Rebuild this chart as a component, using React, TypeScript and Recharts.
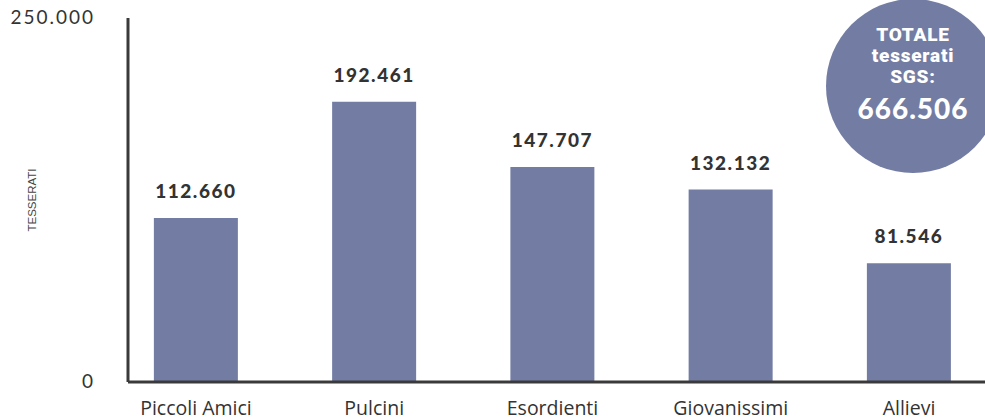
import { BarChart, Bar, XAxis, YAxis, LabelList, Customized } from 'recharts';

const CATEGORIES = ['Piccoli Amici', 'Pulcini', 'Esordienti', 'Giovanissimi', 'Allievi'];
const TESSERATI = [112660, 192461, 147707, 132132, 81546];
const Y_TICKS = [0, 250000];

const BAR_COLOR = '#737ca3';
const AXIS_COLOR = '#3a3a3a';
const NUM_FONT = 'Lato, "DejaVu Sans", sans-serif';

const fmt = (v: number) => v.toLocaleString('de-DE');

const data = CATEGORIES.map((name, i) => ({ idx: i, name, value: TESSERATI[i] }));
const total = TESSERATI.reduce((s, v) => s + v, 0);

// bubble with the grand total, top right corner
const TotalBubble = () => (
  <g>
    <circle cx={913} cy={86} r={87} fill={BAR_COLOR} />
    <g
      textAnchor="middle"
      fill="#fff"
      fontFamily='Roboto, "DejaVu Sans", sans-serif'
      fontWeight={900}
      fontSize={19}
      letterSpacing={0.8}
    >
      <text x={913} y={41}>TOTALE</text>
      <text x={913} y={62}>tesserati</text>
      <text x={913} y={83}>SGS:</text>
    </g>
    <text
      x={913}
      y={119}
      textAnchor="middle"
      fill="#fff"
      fontFamily={NUM_FONT}
      fontWeight={900}
      fontSize={28}
      letterSpacing={1}
    >
      {fmt(total)}
    </text>
  </g>
);

export default function App() {
  return (
    <div
      style={{
        position: 'absolute',
        left: 0,
        top: 0,
        width: 985,
        height: 420,
        overflow: 'hidden',
        background: '#fff',
      }}
    >
      <BarChart width={985} height={420} data={data} margin={{ top: 18, right: 0, left: 0, bottom: 0 }}>
        <XAxis
          dataKey="idx"
          type="number"
          domain={[-0.3815, 4.4263]}
          allowDataOverflow
          ticks={[0, 1, 2, 3, 4]}
          tickFormatter={(i: number) => CATEGORIES[i]}
          height={38}
          tickLine={false}
          tickMargin={13}
          axisLine={{ stroke: AXIS_COLOR, strokeWidth: 3 }}
          tick={{ fill: '#333', fontSize: 19.5, fontFamily: '"Open Sans", "Noto Sans", sans-serif' }}
        />
        <YAxis
          domain={[0, 250000]}
          ticks={Y_TICKS}
          tickFormatter={fmt}
          width={128}
          tickLine={false}
          tickMargin={27}
          axisLine={{ stroke: AXIS_COLOR, strokeWidth: 3 }}
          tick={{
            fill: '#333',
            fontSize: 19,
            fontFamily: NUM_FONT,
            letterSpacing: 2,
            dy: -1,
          }}
          label={{
            value: 'TESSERATI',
            angle: -90,
            position: 'center',
            dx: -32,
            fill: '#444',
            fontSize: 11.5,
            fontFamily: '"Liberation Sans", Arial, sans-serif',
          }}
        />
        <Bar dataKey="value" fill={BAR_COLOR} barSize={84} isAnimationActive={false}>
          <LabelList
            dataKey="value"
            position="top"
            offset={20}
            formatter={(v: number) => fmt(v)}
            fill="#333"
            fontSize={19}
            fontWeight={900}
            fontFamily={NUM_FONT}
            letterSpacing={1.5}
          />
        </Bar>
        <Customized component={TotalBubble} />
      </BarChart>
    </div>
  );
}
